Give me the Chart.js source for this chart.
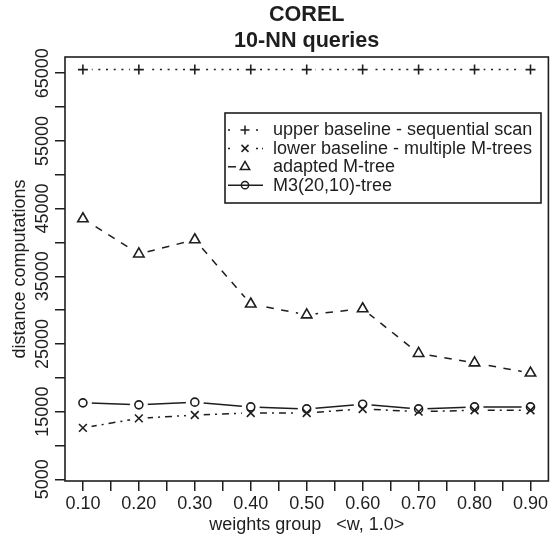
<!DOCTYPE html>
<html><head><meta charset="utf-8">
<script src="https://cdn.jsdelivr.net/npm/chart.js@4/dist/chart.umd.min.js"></script>
<style>html,body{margin:0;padding:0;background:#fff}#wrap{width:556px;height:536px}</style>
</head><body><div id="wrap"><canvas id="c" width="556" height="536"></canvas></div>
<script>
// ---- data ----
const titleLines = ['COREL', '10-NN queries'];
const xAxisTitle = 'weights group   <w, 1.0>';
const yAxisTitle = 'distance computations';
const xValues = [0.10, 0.20, 0.30, 0.40, 0.50, 0.60, 0.70, 0.80, 0.90];
const xTickMarks = [0.10, 0.15, 0.20, 0.25, 0.30, 0.35, 0.40, 0.45, 0.50, 0.55, 0.60, 0.65, 0.70, 0.75, 0.80, 0.85, 0.90];
const xTickLabels = ['0.10', '0.20', '0.30', '0.40', '0.50', '0.60', '0.70', '0.80', '0.90'];
const yTickMarks = [5000, 10000, 15000, 20000, 25000, 30000, 35000, 40000, 45000, 50000, 55000, 60000, 65000];
const yTickValues = [5000, 15000, 25000, 35000, 45000, 55000, 65000];
const yTickLabels = ['5000', '15000', '25000', '35000', '45000', '55000', '65000'];
const seriesNames = ['upper baseline - sequential scan', 'lower baseline - multiple M-trees', 'adapted M-tree', 'M3(20,10)-tree'];
const upperBaseline = [65536, 65536, 65536, 65536, 65536, 65536, 65536, 65536, 65536];
const lowerBaseline = [12600, 14000, 14500, 14800, 14800, 15400, 15000, 15200, 15200];
const adaptedMTree  = [43500, 38300, 40400, 30900, 29300, 30200, 23600, 22200, 20700];
const m3Tree        = [16300, 16000, 16400, 15700, 15400, 16100, 15400, 15700, 15700];

// ---- styling ----
const INK = '#1e1e1e';
const FONT = "'Liberation Sans', Arial, Helvetica, sans-serif";
const FS = 18;
const seriesData = [upperBaseline, lowerBaseline, adaptedMTree, m3Tree];
const seriesStyles = [
  {pointStyle: 'cross',    radius: 5,   dash: [2, 5.7]},
  {pointStyle: 'crossRot', radius: 5.5, dash: [2, 5, 7, 5]},
  {pointStyle: 'triangle', radius: 6,   dash: [7.5, 7.5]},
  {pointStyle: 'circle',   radius: 4,   dash: []}
];
const legendLines = [[228, 234, 256, 263], [228, 234, 256, 263], [228, 236], [228, 263]];

const datasets = [];
seriesData.forEach((vals, i) => {
  const pts = xValues.map((x, j) => ({x: x, y: vals[j]}));
  const st = seriesStyles[i];
  datasets.push({
    label: seriesNames[i] + ' line', data: pts, showLine: true, gapRadius: 9,
    borderColor: INK, borderWidth: 1.5, borderDash: st.dash, pointRadius: 0, fill: false, tension: 0
  });
  datasets.push({
    label: seriesNames[i], data: pts, showLine: false,
    pointStyle: st.pointStyle, pointRadius: st.radius, pointBorderWidth: 1.6,
    pointBorderColor: INK, pointBackgroundColor: 'rgba(0,0,0,0)'
  });
});

const gapPlugin = {
  id: 'gap',
  beforeDatasetDraw(chart, args) {
    const ds = chart.data.datasets[args.index];
    if (!ds.gapRadius) return;
    const ctx = chart.ctx, r = ds.gapRadius;
    ctx.save();
    ctx.beginPath();
    ctx.rect(0, 0, chart.width, chart.height);
    for (const el of args.meta.data) {
      ctx.moveTo(el.x + r, el.y);
      ctx.arc(el.x, el.y, r, 0, Math.PI * 2, true);
    }
    ctx.clip('evenodd');
  },
  afterDatasetDraw(chart, args) {
    const ds = chart.data.datasets[args.index];
    if (ds.gapRadius) chart.ctx.restore();
  }
};

const decorPlugin = {
  id: 'decor',
  afterDraw(chart) {
    const ctx = chart.ctx, a = chart.chartArea;
    ctx.save();
    // box
    ctx.strokeStyle = INK; ctx.lineWidth = 1.6; ctx.setLineDash([]);
    ctx.strokeRect(a.left, a.top, a.right - a.left, a.bottom - a.top);
    // title
    ctx.fillStyle = INK; ctx.textAlign = 'center'; ctx.textBaseline = 'middle';
    ctx.font = 'bold 21.6px ' + FONT;
    const cx = (a.left + a.right) / 2;
    ctx.fillText(titleLines[0], cx, 15.5);
    ctx.fillText(titleLines[1], cx, 41);
    // rotated y tick labels
    const ys = chart.scales.y;
    ctx.font = FS + 'px ' + FONT;
    yTickValues.forEach((v, i) => {
      const py = ys.getPixelForValue(v);
      ctx.save(); ctx.translate(43, py); ctx.rotate(-Math.PI / 2);
      ctx.fillText(yTickLabels[i], 0, 0);
      ctx.restore();
    });
    // legend
    ctx.lineWidth = 1.6;
    ctx.strokeRect(225, 113, 316, 90);
    ctx.textAlign = 'left';
    seriesNames.forEach((name, i) => {
      const y = 130 + i * 18.4;
      const st = seriesStyles[i];
      const segs = legendLines[i];
      ctx.lineWidth = 1.5;
      ctx.setLineDash(i === 0 ? [2, 5.7] : (i === 1 ? [2, 4] : []));
      ctx.beginPath();
      for (let k = 0; k < segs.length; k += 2) { ctx.moveTo(segs[k], y); ctx.lineTo(segs[k + 1], y); }
      ctx.stroke();
      ctx.setLineDash([]);
      ctx.fillStyle = 'rgba(0,0,0,0)';
      Chart.helpers.drawPoint(ctx, {pointStyle: st.pointStyle, radius: st.radius * 0.9, borderWidth: 1.5, rotation: 0}, 245, y);
      ctx.fillStyle = INK;
      ctx.fillText(name, 273, y + 0.5);
    });
    ctx.restore();
  }
};

new Chart(document.getElementById('c'), {
  type: 'scatter',
  data: {datasets: datasets},
  plugins: [gapPlugin, decorPlugin],
  options: {
    responsive: false, animation: false, devicePixelRatio: 1,
    layout: {padding: {top: 57, right: 2, bottom: 0, left: 0}},
    plugins: {legend: {display: false}, title: {display: false}, tooltip: {enabled: false}},
    scales: {
      x: {
        type: 'linear', position: 'bottom', min: 0.068, max: 0.932,
        afterBuildTicks: s => { s.ticks = xTickMarks.map(v => ({value: v})); },
        afterFit: s => { s.height = 55; },
        ticks: {
          autoSkip: false, maxRotation: 0, minRotation: 0, padding: 2, color: INK,
          font: {family: FONT, size: FS},
          callback: v => { const k = xValues.findIndex(x => Math.abs(x - v) < 1e-6); return k >= 0 ? xTickLabels[k] : ''; }
        },
        grid: {drawOnChartArea: false, drawTicks: true, tickLength: 10, color: INK, lineWidth: 1.5},
        border: {display: false},
        title: {display: true, text: xAxisTitle, color: INK, font: {family: FONT, size: FS}, padding: {top: 0, bottom: 0.5}}
      },
      y: {
        type: 'linear', position: 'left', min: 4750, max: 67400,
        afterBuildTicks: s => { s.ticks = yTickMarks.map(v => ({value: v})); },
        afterFit: s => { s.width = 65; },
        ticks: {
          color: 'rgba(0,0,0,0)', font: {family: FONT, size: FS},
          callback: v => { const k = yTickValues.indexOf(v); return k >= 0 ? yTickLabels[k] : ''; }
        },
        grid: {drawOnChartArea: false, drawTicks: true, tickLength: 10, color: INK, lineWidth: 1.5},
        border: {display: false},
        title: {display: true, text: yAxisTitle, color: INK, font: {family: FONT, size: FS}, padding: {top: 9.5, bottom: 0}}
      }
    }
  }
});
</script>
</body></html>
